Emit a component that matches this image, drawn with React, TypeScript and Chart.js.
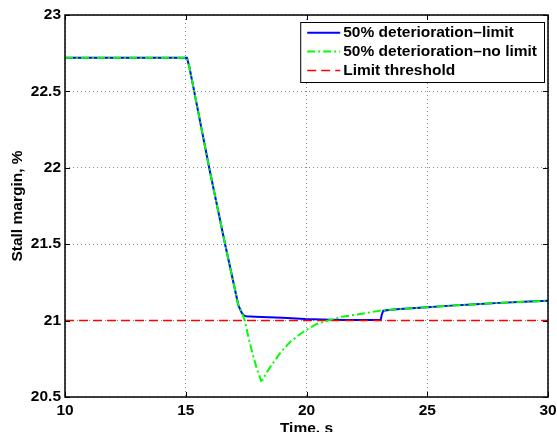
import React, { useEffect, useRef } from 'react';
import { Chart, registerables } from 'chart.js';

Chart.register(...registerables);

const FONT = "'Liberation Sans', Arial, Helvetica, sans-serif";

// Axis ticks
const xTicks = [10, 15, 20, 25, 30];
const xTickLabels = ['10', '15', '20', '25', '30'];
const yTicks = [20.5, 21, 21.5, 22, 22.5, 23];
const yTickLabels = ['20.5', '21', '21.5', '22', '22.5', '23'];

// Series: 50% deterioration - limit (blue)
const timeLimit = [10, 15.05, 15.15, 15.35, 15.97, 16.63, 17.18, 17.32, 17.42, 17.5, 17.87, 19.0, 19.94, 21.0, 21.59, 23.07, 23.12, 23.18, 23.5, 23.87, 25, 26, 27, 28, 29, 30];
const marginLimit = [22.72, 22.72, 22.66, 22.5, 22.0, 21.5, 21.1, 21.05, 21.032, 21.028, 21.026, 21.018, 21.01, 21.006, 21.004, 21.004, 21.04, 21.065, 21.071, 21.076, 21.088, 21.098, 21.107, 21.116, 21.123, 21.13];

// Series: 50% deterioration - no limit (green)
const timeNoLimit = [10, 15.05, 15.15, 15.35, 15.97, 16.63, 17.18, 17.38, 17.45, 17.59, 17.76, 17.94, 18.12, 18.2, 18.35, 18.56, 18.9, 19.32, 19.87, 20.42, 21.04, 21.46, 21.8, 22.63, 23.04, 23.2, 23.5, 24, 25, 26, 27, 28, 29, 30];
const marginNoLimit = [22.72, 22.72, 22.66, 22.5, 22.0, 21.5, 21.1, 21.03, 20.995, 20.895, 20.786, 20.688, 20.607, 20.615, 20.66, 20.71, 20.786, 20.86, 20.927, 20.978, 21.008, 21.025, 21.032, 21.054, 21.065, 21.068, 21.071, 21.076, 21.088, 21.098, 21.107, 21.116, 21.123, 21.13];

// Series: limit threshold (red)
const timeThreshold = [10, 30];
const marginThreshold = [21, 21];

const seriesLabels = ['50% deterioration\u2013limit', '50% deterioration\u2013no limit', 'Limit threshold'];
const xTitle = 'Time, s';
const yTitle = 'Stall margin, %';

const zip = (xs: number[], ys: number[]) => xs.map((x, i) => ({ x, y: ys[i] }));

const framePlugin = {
  id: 'matlabFrame',
  afterDatasetsDraw(chart: any) {
    const { ctx, chartArea: a, scales } = chart;
    ctx.save();
    ctx.setLineDash([]);
    ctx.strokeStyle = '#000';
    ctx.lineWidth = 1;
    ctx.beginPath();
    for (const v of xTicks) {
      const px = Math.round(scales.x.getPixelForValue(v)) + 0.5;
      ctx.moveTo(px, a.bottom);
      ctx.lineTo(px, a.bottom - 5);
      ctx.moveTo(px, a.top);
      ctx.lineTo(px, a.top + 5);
    }
    for (const v of yTicks) {
      const py = Math.round(scales.y.getPixelForValue(v)) + 0.5;
      ctx.moveTo(a.left, py);
      ctx.lineTo(a.left + 5, py);
      ctx.moveTo(a.right, py);
      ctx.lineTo(a.right - 5, py);
    }
    ctx.stroke();
    ctx.lineWidth = 1.5;
    ctx.strokeRect(a.left, a.top, a.right - a.left, a.bottom - a.top);

    // Legend box
    ctx.font = `bold 15.5px ${FONT}`;
    const ds = chart.data.datasets;
    const maxW = Math.max(...ds.map((d: any) => ctx.measureText(d.label).width));
    const pad = 7, lineLen = 33, gap = 3, rowH = 18.8;
    const w = pad + lineLen + gap + maxW + pad;
    const h = 60;
    const right = a.right - 4;
    const left = right - w;
    const top = a.top + 7;
    ctx.fillStyle = '#fff';
    ctx.fillRect(left, top, w, h);
    ctx.lineWidth = 1;
    ctx.strokeStyle = '#000';
    ctx.strokeRect(left + 0.5, top + 0.5, w, h);
    ds.forEach((d: any, i: number) => {
      const y = top + 10.8 + i * rowH;
      ctx.beginPath();
      ctx.strokeStyle = d.borderColor;
      ctx.lineWidth = d.borderWidth;
      ctx.setLineDash(d.borderDash || []);
      ctx.moveTo(left + pad, y);
      ctx.lineTo(left + pad + lineLen, y);
      ctx.stroke();
      ctx.setLineDash([]);
      ctx.fillStyle = '#000';
      ctx.textBaseline = 'middle';
      ctx.textAlign = 'left';
      ctx.fillText(d.label, left + pad + lineLen + gap, y);
    });
    ctx.restore();
  },
};

export default function App() {
  const ref = useRef<HTMLCanvasElement | null>(null);
  useEffect(() => {
    if (!ref.current) return;
    const tickFont = { family: FONT, size: 15.5, weight: 'bold' as const };
    const titleFont = { family: FONT, size: 15.5, weight: 'bold' as const, lineHeight: 1 };
    const chart = new Chart(ref.current, {
      type: 'line',
      data: {
        datasets: [
          {
            label: seriesLabels[0],
            data: zip(timeLimit, marginLimit),
            borderColor: '#0000ff',
            borderWidth: 2,
            pointRadius: 0,
            tension: 0,
            order: 2,
          },
          {
            label: seriesLabels[1],
            data: zip(timeNoLimit, marginNoLimit),
            borderColor: '#00ff00',
            borderWidth: 2,
            borderDash: [8, 3, 2, 3],
            pointRadius: 0,
            tension: 0,
            order: 0,
          },
          {
            label: seriesLabels[2],
            data: zip(timeThreshold, marginThreshold),
            borderColor: '#ff0000',
            borderWidth: 1.5,
            borderDash: [9, 5],
            pointRadius: 0,
            tension: 0,
            order: 1,
          },
        ],
      },
      options: {
        responsive: false,
        animation: false,
        devicePixelRatio: 1,
        layout: { padding: { left: 0, right: 9, top: 15, bottom: 0 } },
        plugins: {
          legend: { display: false },
          tooltip: { enabled: false },
          title: { display: false },
        },
        scales: {
          x: {
            type: 'linear',
            min: 10,
            max: 30,
            afterBuildTicks: (s: any) => { s.ticks = xTicks.map((v) => ({ value: v })); },
            afterFit: (s: any) => { s.height = 35; s.paddingLeft = 0; s.paddingRight = 0; },
            ticks: {
              font: tickFont,
              color: '#000',
              padding: 4,
              maxRotation: 0,
              autoSkip: false,
              callback: (_v: any, i: number) => xTickLabels[i],
            },
            grid: { color: '#888', lineWidth: 1, drawTicks: false },
            border: { display: false, dash: [1, 3] },
            title: {
              display: true,
              text: xTitle,
              color: '#000',
              font: titleFont,
              padding: { top: 0, bottom: -4 },
            },
          },
          y: {
            type: 'linear',
            min: 20.5,
            max: 23,
            afterBuildTicks: (s: any) => { s.ticks = yTicks.map((v) => ({ value: v })); },
            afterFit: (s: any) => { s.width = 65; s.paddingTop = 0; s.paddingBottom = 0; },
            ticks: {
              font: tickFont,
              color: '#000',
              padding: 4,
              autoSkip: false,
              callback: (_v: any, i: number) => yTickLabels[i],
            },
            grid: { color: '#888', lineWidth: 1, drawTicks: false },
            border: { display: false, dash: [1, 3] },
            title: {
              display: true,
              text: yTitle,
              color: '#000',
              font: titleFont,
              padding: { top: 9.5, bottom: 0 },
            },
          },
        },
      },
      plugins: [framePlugin],
    } as any);
    return () => chart.destroy();
  }, []);
  return (
    <div style={{ position: 'absolute', left: 0, top: 0, width: 557, height: 432, background: '#fff' }}>
      <canvas ref={ref} width={557} height={432} style={{ display: 'block', width: 557, height: 432 }} />
    </div>
  );
}
